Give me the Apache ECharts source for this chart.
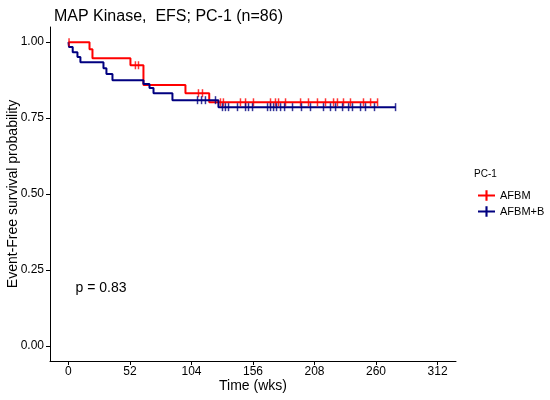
<!DOCTYPE html>
<html><head><meta charset="utf-8">
<script src="https://cdn.jsdelivr.net/npm/echarts@6/dist/echarts.min.js"></script>
<style>html,body{margin:0;padding:0;background:#fff}#c{width:550px;height:400px}</style>
</head><body><div id="c"></div>
<script>
// Kaplan-Meier steps: [time (wks), survival after event]
const groupNames = ['AFBM', 'AFBM+B'];
const afbmEvents = [[0, 1.0], [17.8, 0.977], [20.3, 0.947], [52.4, 0.924], [63.4, 0.859], [98.9, 0.832], [119.0, 0.802]];
const afbmCensor = [0.5, 56.6, 59.2, 109.9, 113.3, 128.5, 131.0, 145.4, 149.7, 156.4, 170.8, 175.0, 177.6, 183.5, 196.2, 202.9, 210.5, 217.3, 224.1, 227.4, 232.5, 238.4, 249.4, 255.4, 261.3];
const afbmbEvents = [[0, 1.0], [0.5, 0.984], [3.6, 0.967], [7.6, 0.951], [10.1, 0.934], [29.6, 0.914], [32.1, 0.895], [37.2, 0.875], [63.4, 0.862], [68.5, 0.849], [71.9, 0.832], [87.9, 0.809], [126.8, 0.786]];
const afbmbCensor = [109.1, 112.5, 115.8, 124.3, 130.2, 132.7, 135.3, 142.9, 149.7, 152.2, 155.6, 168.3, 170.8, 173.4, 175.9, 179.3, 182.7, 189.4, 197.0, 204.6, 215.6, 221.5, 225.8, 231.7, 236.8, 240.1, 246.9, 251.1, 258.7, 276.5];
const xTicks = [0, 52, 104, 156, 208, 260, 312];
const yTicks = [0, 0.25, 0.5, 0.75, 1.0];
const pText = 'p = 0.83';
const colors = ['#FF0000', '#000080'];

function survAt(ev, t) { let s = 1; for (const [et, es] of ev) { if (et <= t) s = es; } return s; }
function lineData(ev, cens) {
  const d = ev.map(p => p.slice());
  const tmax = Math.max(ev[ev.length - 1][0], ...cens);
  d.push([tmax, survAt(ev, tmax)]);
  return d;
}
const groups = [[afbmEvents, afbmCensor], [afbmbEvents, afbmbCensor]];
const series = [];
groups.forEach(([ev, cens], i) => {
  series.push({ name: groupNames[i], type: 'line', step: 'end', data: lineData(ev, cens), showSymbol: false, symbol: 'none',
    lineStyle: { color: colors[i], width: 2 }, itemStyle: { color: colors[i] }, z: 2, animation: false });
  series.push({ name: groupNames[i], type: 'scatter', data: cens.map(t => [t, survAt(ev, t)]),
    symbol: 'rect', symbolSize: [1.5, 8], itemStyle: { color: colors[i] }, z: 3, animation: false });
});

const chart = echarts.init(document.getElementById('c'), null, { renderer: 'canvas' });
const F = 'Liberation Sans, Arial, sans-serif';
const pieces = {
  animation: false,
  title: { text: 'MAP Kinase,  EFS; PC-1 (n=86)', left: 49, top: 4, textStyle: { fontFamily: F, fontSize: 16, fontWeight: 'normal', color: '#000' } },
  grid: { left: 50, right: 94, top: 27, bottom: 39, containLabel: false, outerBoundsMode: 'none' },
  xAxis: { type: 'value', min: -15.6, max: 327.6,
    axisLine: { show: true, onZero: false, lineStyle: { color: '#000', width: 1 } },
    axisTick: { show: true, length: 4, lineStyle: { color: '#000' }, customValues: xTicks },
    axisLabel: { fontFamily: F, fontSize: 12, color: '#000', margin: 5, customValues: xTicks, formatter: v => String(v) },
    splitLine: { show: false }, nameMoveOverlap: false,
    name: 'Time (wks)', nameLocation: 'middle', nameGap: 18, nameTextStyle: { fontFamily: F, fontSize: 14, color: '#000' } },
  yAxis: { type: 'value', min: -0.05, max: 1.05,
    axisLine: { show: true, onZero: false, lineStyle: { color: '#000', width: 1 } },
    axisTick: { show: true, length: 4, lineStyle: { color: '#000' }, customValues: yTicks },
    axisLabel: { fontFamily: F, fontSize: 12, color: '#000', margin: 6, customValues: yTicks, formatter: v => v.toFixed(2) },
    splitLine: { show: false }, nameMoveOverlap: false,
    name: 'Event-Free survival probability', nameLocation: 'middle', nameGap: 30, nameTextStyle: { fontFamily: F, fontSize: 14, color: '#000' } },
  legend: { data: groupNames.map(n => ({ name: n, icon: 'path://M0,7 L16,7 L16,9 L0,9 Z M7,3 L9,3 L9,13 L7,13 Z' })),
    orient: 'vertical', left: 473, top: 185, itemWidth: 17, itemHeight: 11, itemGap: 5,
    textStyle: { fontFamily: F, fontSize: 11, color: '#000' } },
  series: series
};
chart.setOption(pieces);
const pPos = chart.convertToPixel({ gridIndex: 0 }, [6, 0.19]);
chart.setOption({ graphic: [
  { type: 'text', left: 474, top: 169, style: { text: 'PC-1', font: '10px ' + F, fill: '#000' } },
  { type: 'text', x: pPos[0], y: pPos[1], style: { text: pText, font: '14px ' + F, fill: '#000', textVerticalAlign: 'middle' } }] });
</script></body></html>
